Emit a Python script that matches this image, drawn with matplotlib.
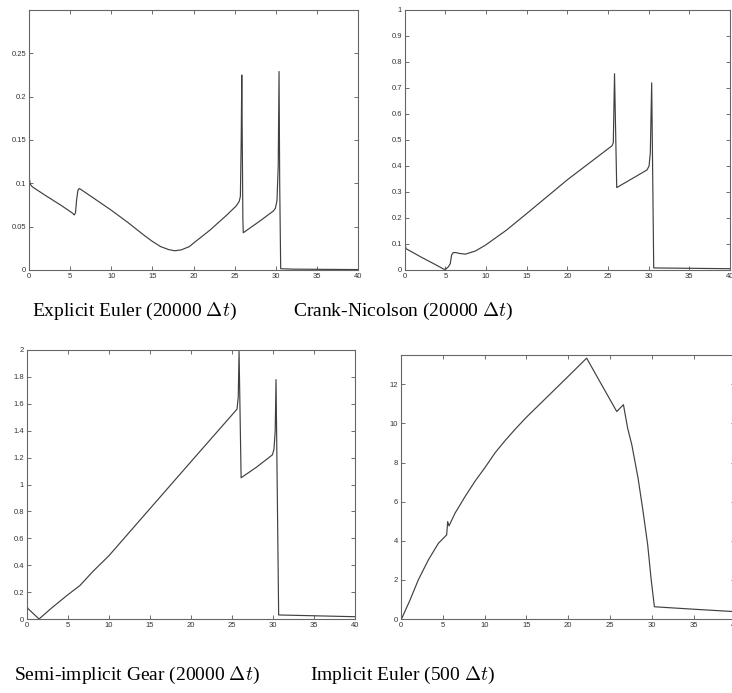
import matplotlib
matplotlib.use("Agg")
import matplotlib.pyplot as plt

plt.rcParams['font.family'] = ['Liberation Sans', 'DejaVu Sans']
plt.rcParams['mathtext.fontset'] = 'cm'

# Explicit Euler (20000 dt)
t_ee = [0, 0.05, 0.15, 0.4, 2, 4, 5.3, 5.5, 5.65, 5.8, 5.95, 6.1, 6.3, 8, 10, 12, 14, 15, 16, 17,
        17.7, 18.5, 19.5, 20, 22, 24, 25.2, 25.55, 25.7, 25.8, 25.87, 26.0, 26.05, 28, 29.7, 29.95,
        30.15, 30.3, 30.4, 30.48, 30.6, 32, 35, 40]
v_ee = [0.13, 0.105, 0.099, 0.096, 0.086, 0.074, 0.0655, 0.0635, 0.066, 0.082, 0.092, 0.094, 0.093,
        0.082, 0.069, 0.055, 0.04, 0.033, 0.027, 0.0235, 0.0222, 0.0232, 0.027, 0.031, 0.046, 0.063,
        0.074, 0.079, 0.085, 0.15, 0.225, 0.06, 0.043, 0.056, 0.068, 0.071, 0.08, 0.12, 0.229, 0.1,
        0.0015, 0.001, 0.0008, 0.0005]

# Crank-Nicolson (20000 dt)
t_cn = [0, 0.05, 0.16, 2, 4, 4.75, 5.0, 5.36, 5.6, 5.77, 5.97, 6.3, 6.66, 7.47, 8.69, 9.9, 12.5, 15,
        20, 25.5, 25.65, 25.8, 26.07, 28, 29.8, 30.05, 30.2, 30.37, 30.62, 32, 40]
v_cn = [0.2, 0.1, 0.082, 0.05, 0.017, 0.004, 0.002, 0.012, 0.024, 0.058, 0.067, 0.067, 0.064, 0.061,
        0.073, 0.095, 0.153, 0.217, 0.347, 0.478, 0.49, 0.755, 0.317, 0.352, 0.385, 0.40, 0.45, 0.72,
        0.008, 0.0075, 0.005]

# Semi-implicit Gear (20000 dt)
t_sg = [0, 0.05, 0.2, 1.5, 3, 5, 6.5, 8, 10, 15, 20, 25.6, 25.75, 25.85, 26.1, 28, 29.9, 30.1, 30.25,
        30.35, 30.67, 40]
v_sg = [0.12, 0.09, 0.075, 0.0, 0.08, 0.18, 0.25, 0.35, 0.47, 0.82, 1.17, 1.56, 1.65, 1.99, 1.05,
        1.13, 1.22, 1.26, 1.4, 1.78, 0.03, 0.017]

# Implicit Euler (500 dt)
t_ie = [0, 0.08, 1.08, 2.07, 3.27, 4.47, 5.46, 5.58, 5.74, 6.46, 7.66, 8.86, 10.05, 11.25, 12.5,
        13.75, 15, 16.63, 19.5, 22.2, 24, 25.8, 26.6, 27.1, 27.6, 28.35, 28.95, 29.5, 29.9, 30.3,
        30.5, 35, 40]
v_ie = [0.1, 0.02, 0.97, 2.0, 3.02, 3.87, 4.3, 4.98, 4.76, 5.41, 6.26, 7.05, 7.75, 8.5, 9.15, 9.75,
        10.32, 11.0, 12.2, 13.34, 11.97, 10.61, 10.96, 9.76, 8.91, 7.2, 5.49, 3.79, 2.08, 0.63, 0.62,
        0.5, 0.375]

x_ticks = [0, 5, 10, 15, 20, 25, 30, 35, 40]
captions = [r"Explicit Euler (20000 $\Delta t$)", r"Crank-Nicolson (20000 $\Delta t$)",
            r"Semi-implicit Gear (20000 $\Delta t$)", r"Implicit Euler (500 $\Delta t$)"]

W, H = 732, 693
fig = plt.figure(figsize=(W / 100, H / 100), dpi=100)


def panel(left, right, top, bottom, t, v, ylim, yticks, ylabels):
    ax = fig.add_axes([left / W, 1 - bottom / H, (right - left) / W, (bottom - top) / H])
    ax.plot(t, v, color='#404040', lw=0.85)
    ax.set_xlim(0, 40)
    ax.set_ylim(*ylim)
    ax.set_xticks(x_ticks)
    ax.set_yticks(yticks)
    ax.set_yticklabels(ylabels)
    ax.tick_params(direction='in', length=3, width=0.6, top=True, right=True,
                   labelsize=5.5, pad=2, colors='#555', labelcolor='#333')
    for s in ax.spines.values():
        s.set_color('#666')
        s.set_linewidth(0.8)
    return ax


panel(29, 358, 10, 270, t_ee, v_ee, (0, 0.3), [0, 0.05, 0.1, 0.15, 0.2, 0.25],
      ['0', '0.05', '0.1', '0.15', '0.2', '0.25'])
panel(404.7, 730, 10, 270, t_cn, v_cn, (0, 1), [i / 10 for i in range(11)],
      ['0'] + ['0.%d' % i for i in range(1, 10)] + ['1'])
panel(26.7, 355.3, 350, 619, t_sg, v_sg, (0, 2), [i / 5 for i in range(11)],
      ['0', '0.2', '0.4', '0.6', '0.8', '1', '1.2', '1.4', '1.6', '1.8', '2'])
panel(401, 735.5, 355, 619, t_ie, v_ie, (0, 13.5), [0, 2, 4, 6, 8, 10, 12],
      ['0', '2', '4', '6', '8', '10', '12'])

cap_pos = [(134, 311), (403, 311), (137, 675), (403, 675)]
for (cx, cy), txt in zip(cap_pos, captions):
    fig.text(cx / W, 1 - cy / H, txt, ha='center', va='center', fontsize=14,
             family=['Liberation Serif', 'DejaVu Serif'])

fig.savefig("out.png", dpi=100)
